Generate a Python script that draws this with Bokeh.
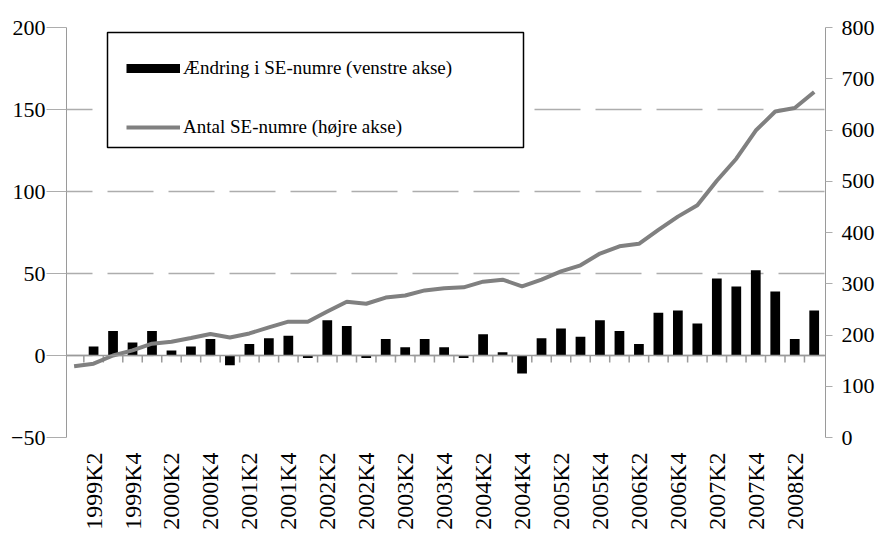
import math
import numpy as np
from bokeh.plotting import figure
from bokeh.models import (Range1d, LinearAxis, FixedTicker, SingleIntervalTicker, Legend,
                          LegendItem, BoxAnnotation, Span, ColumnDataSource)
from bokeh.embed import file_html
from bokeh.resources import INLINE

quarters = ["1999K1", "1999K2", "1999K3", "1999K4",
            "2000K1", "2000K2", "2000K3", "2000K4",
            "2001K1", "2001K2", "2001K3", "2001K4",
            "2002K1", "2002K2", "2002K3", "2002K4",
            "2003K1", "2003K2", "2003K3", "2003K4",
            "2004K1", "2004K2", "2004K3", "2004K4",
            "2005K1", "2005K2", "2005K3", "2005K4",
            "2006K1", "2006K2", "2006K3", "2006K4",
            "2007K1", "2007K2", "2007K3", "2007K4",
            "2008K1", "2008K2", "2008K3"]

# Ændring i SE-numre (venstre akse)
changes = [None, 5.5, 15, 8, 15, 3, 5.5, 10, -6, 7, 10.5, 12, -1.5, 21.5, 18, -1.5,
           10, 5, 10, 5, -1.5, 13, 2, -11, 10.5, 16.5, 11.5, 21.5, 15, 7, 26, 27.5,
           19.5, 47, 42, 52, 39, 10, 27.5]

# Antal SE-numre (højre akse)
totals = [139, 144, 160, 170, 183, 187, 194, 202, 195, 203, 215, 226, 226, 246, 265, 261,
          273, 277, 287, 291, 293, 304, 308, 295, 308, 324, 336, 359, 373, 378, 405, 431,
          453, 501, 544, 599, 636, 643, 674]

left_ticks = [-50, 0, 50, 100, 150, 200]
label1 = "Ændring i SE-numre (venstre akse)"
label2 = "Antal SE-numre (højre akse)"

FONT = "Liberation Serif"
GRID = "#adadad"
AXIS = "#9a9a9a"

idx = list(range(len(quarters)))
bar_x = [i for i, v in zip(idx, changes) if v is not None]
bar_top = [v for v in changes if v is not None]
bars_src = ColumnDataSource(dict(x=bar_x, top=bar_top))
line_src = ColumnDataSource(dict(x=idx, y=totals))

FRAME_H = 410
p = figure(frame_width=759, frame_height=FRAME_H, output_backend="svg", toolbar_location=None,
           x_range=Range1d(-0.39, len(quarters) - 1 + 0.58), y_range=Range1d(-50, 200),
           min_border_left=66, min_border_top=27, min_border_right=50, min_border_bottom=4)
p.styles = {"font-family": "'Liberation Serif', serif"}
p.outline_line_color = None
p.background_fill_color = "white"
p.extra_y_ranges = {"right": Range1d(0, 800)}

# bottom axis: labels only
xa = p.xaxis[0]
label_idx = idx[1::2]
xa.ticker = FixedTicker(ticks=label_idx)
xa.major_label_overrides = {i: quarters[i] for i in label_idx}
xa.axis_line_alpha = 0
xa.major_tick_out = 0
xa.major_tick_in = 0
xa.minor_tick_out = 0
xa.major_label_orientation = math.pi / 2
xa.major_label_standoff = 15
xa.major_label_text_font = FONT
xa.major_label_text_font_size = "24px"
xa.major_label_text_color = "black"
p.xgrid.visible = False

# left axis
ya = p.yaxis[0]
ya.ticker = FixedTicker(ticks=left_ticks)
ya.axis_line_color = AXIS
ya.major_tick_line_color = GRID
ya.major_tick_out = 20
ya.major_tick_in = 0
ya.major_label_standoff = 1
ya.major_label_text_font = FONT
ya.major_label_text_font_size = "22px"
ya.major_label_text_color = "black"
p.ygrid.grid_line_color = GRID
p.ygrid.grid_line_width = 1.5
p.ygrid.grid_line_dash = "46 15"
p.ygrid.grid_line_dash_offset = 20

# right axis
ra = LinearAxis(y_range_name="right", ticker=SingleIntervalTicker(interval=100, num_minor_ticks=0),
                major_label_text_font=FONT, major_label_text_font_size="22px")
ra.axis_line_color = AXIS
ra.major_tick_line_color = GRID
ra.major_tick_out = 7
ra.major_tick_in = 0
ra.major_label_standoff = 9
ra.major_label_text_color = "black"
p.add_layout(ra, "right")

# zero line with category boundary ticks
p.add_layout(Span(location=0, dimension="width", line_color=AXIS, line_width=1.5))
bounds = [i + 0.5 for i in idx[:-1]]
tick_len = 7 * 250 / FRAME_H
p.segment(x0=bounds, y0=[0] * len(bounds), x1=bounds, y1=[-tick_len] * len(bounds),
          line_color=AXIS, line_width=1.5)

p.vbar(x="x", top="top", bottom=0, width=0.5, source=bars_src, fill_color="black", line_color=None)
r_line = p.line(x="x", y="y", source=line_src, y_range_name="right", line_color="#808080", line_width=4)
r_dummy = p.line(x=[np.nan], y=[np.nan], line_color="black", line_width=9)

box = BoxAnnotation(left=41, right=457, top=405, bottom=290,
                    left_units="screen", right_units="screen", top_units="screen", bottom_units="screen",
                    fill_color="white", fill_alpha=1, line_color="black", line_width=1.5, line_alpha=1)
p.add_layout(box)

legend = Legend(items=[LegendItem(label=label1, renderers=[r_dummy]),
                       LegendItem(label=label2, renderers=[r_line])],
                location=(60, 299), padding=0, spacing=37, margin=0,
                glyph_width=54, glyph_height=22, label_height=22, label_standoff=3,
                label_text_font=FONT, label_text_font_size="19px", label_text_color="black",
                border_line_alpha=0, background_fill_alpha=0)
p.add_layout(legend)

open("out.html", "w").write(file_html(p, INLINE))
